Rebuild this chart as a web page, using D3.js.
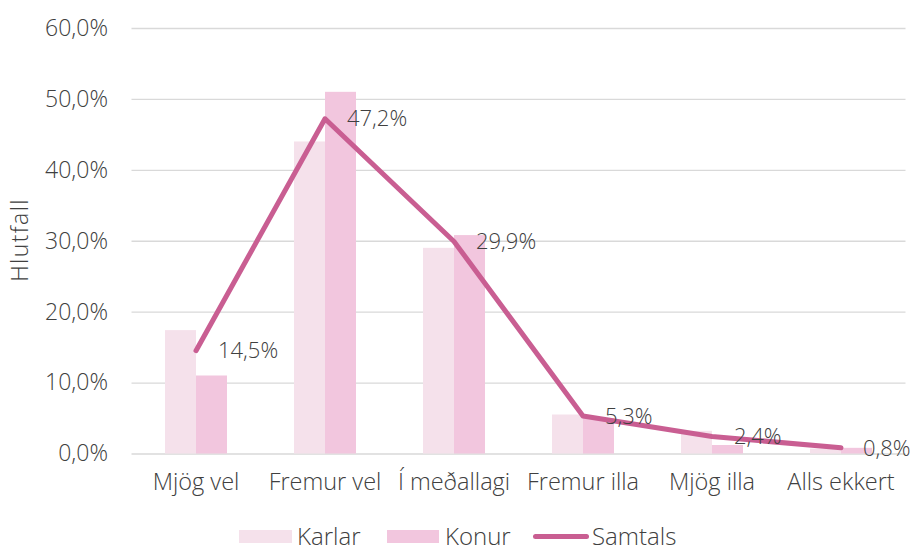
<!DOCTYPE html>
<html><head><meta charset="utf-8">
<script src="https://cdn.jsdelivr.net/npm/d3@7"></script>
<style>
body{margin:0;background:#fff;}
text{font-family:"Open Sans",sans-serif;font-weight:300;fill:#404040;}
</style></head>
<body><svg id="c" width="913" height="545"></svg>
<script>
const categories = ["Mjög vel","Fremur vel","Í meðallagi","Fremur illa","Mjög illa","Alls ekkert"];
const karlar = [17.4, 44.0, 29.0, 5.5, 3.2, 0.7];
const konur = [11.0, 51.0, 30.8, 5.0, 1.2, 0.8];
const samtals = [14.5, 47.2, 29.9, 5.3, 2.4, 0.8];
const yTicks = [0,10,20,30,40,50,60];
const seriesNames = ["Karlar","Konur","Samtals"];

(function(){
const svg = d3.select("#c");
const mLeft = 131.5, mRight = 905.5, mTop = 28, mBottom = 453.5;
const x = d3.scaleBand().domain(categories).range([mLeft, mRight]);
const y = d3.scaleLinear().domain([0,60]).range([mBottom, mTop]);
const fmt = v => v.toFixed(1).replace(".", ",") + "%";
const cKarlar = "#f5e1eb", cKonur = "#f2c6de", cLine = "#c95e92";

const yAxis = d3.axisLeft(y).tickValues(yTicks).tickSize(-(mRight-mLeft)).tickFormat(fmt).tickPadding(23.5);
const gy = svg.append("g").attr("transform", `translate(${mLeft},0)`).call(yAxis);
gy.select(".domain").remove();
gy.selectAll(".tick line").attr("stroke", "#d9d9d9").attr("stroke-width", 1.3);
gy.selectAll(".tick text").style("font-size", "23px").attr("fill", "#595959");

const bw = 31;
const g = svg.append("g");
g.selectAll("rect.k").data(categories).join("rect")
  .attr("x", d => x(d) + x.bandwidth()/2 - bw)
  .attr("y", (d,i) => y(karlar[i]))
  .attr("width", bw).attr("height", (d,i) => y(0) - y(karlar[i]))
  .attr("fill", cKarlar);
g.selectAll("rect.n").data(categories).join("rect")
  .attr("x", d => x(d) + x.bandwidth()/2)
  .attr("y", (d,i) => y(konur[i]))
  .attr("width", bw).attr("height", (d,i) => y(0) - y(konur[i]))
  .attr("fill", cKonur);

const line = d3.line().x((d,i) => x(categories[i]) + x.bandwidth()/2).y(d => y(d));
svg.append("path").datum(samtals).attr("d", line).attr("fill","none")
  .attr("stroke", cLine).attr("stroke-width", 5).attr("stroke-linecap","round").attr("stroke-linejoin","round");

svg.selectAll("text.lbl").data(samtals).join("text")
  .attr("x", (d,i) => x(categories[i]) + x.bandwidth()/2 + 22)
  .attr("y", d => y(d)).attr("dy", "0.35em")
  .style("font-size", "22px").text(fmt);

const xAxis = d3.axisBottom(x).tickSize(0).tickPadding(20);
const gx = svg.append("g").attr("transform", `translate(0,${mBottom})`).call(xAxis);
gx.select(".domain").remove();
gx.selectAll(".tick text").style("font-size", "23.5px").attr("fill", "#595959");

svg.append("text").attr("transform", "translate(28,240) rotate(-90)")
  .attr("text-anchor","middle").style("font-size","23px").style("letter-spacing","1.4px")
  .attr("fill","#595959").text("Hlutfall");

const lg = svg.append("g");
const legItems = [
  {n:seriesNames[0], x:239, w:53, tx:297, c:cKarlar, t:"rect"},
  {n:seriesNames[1], x:387, w:52, tx:445, c:cKonur, t:"rect"},
  {n:seriesNames[2], x:533, w:56, tx:592, c:cLine, t:"line"}];
legItems.forEach(it => {
  if (it.t === "rect") lg.append("rect").attr("x", it.x).attr("y", 530).attr("width", it.w).attr("height", 13).attr("fill", it.c);
  else lg.append("line").attr("x1", it.x+2.5).attr("x2", it.x+it.w-2.5).attr("y1", 536.5).attr("y2", 536.5).attr("stroke", it.c).attr("stroke-width", 5).attr("stroke-linecap","round");
  lg.append("text").attr("x", it.tx).attr("y", 536.5).attr("dy","0.35em").style("font-size","24px").attr("fill","#595959").text(it.n);
});
})();
</script></body></html>
